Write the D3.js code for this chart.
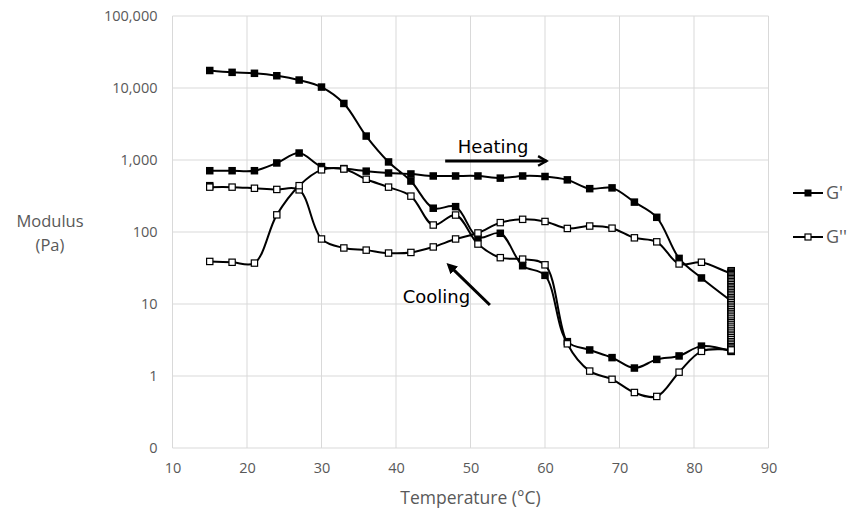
<!DOCTYPE html>
<html lang="en">
<head>
<meta charset="UTF-8">
<title>Modulus vs Temperature</title>
<script src="https://d3js.org/d3.v7.min.js"></script>
<style>
    body { margin: 0; background: #fff; }
    svg { display: block; font-family: "Open Sans", Arial, sans-serif; }
    .tick-label { fill: #595959; font-size: 14.5px; }
    .axis-title { fill: #595959; font-size: 17.5px; }
    .note { fill: #000; font-family: "DejaVu Sans", sans-serif; font-size: 18px; }
</style>
</head>
<body>
<div id="chart"></div>
<script>
    // temperatures (°C) of the ramp points
    const temps = [15, 18, 21, 24, 27, 30, 33, 36, 39, 42, 45, 48, 51, 54, 57, 60, 63, 66, 69, 72, 75, 78, 81, 85];

    // heating ramp 15 -> 85
    const heatGp  = [710, 710, 710, 910, 1250, 810, 760, 700, 660, 640, 600, 600, 600, 560, 600, 590, 530, 400, 410, 260, 160, 43, 23, 11];
    const heatGpp = [420, 420, 405, 390, 385, 80, 60, 56, 51, 52, 62, 80, 97, 135, 150, 140, 112, 121, 113, 83, 73, 36, 38, 27];

    // hold at 85 °C (time sweep, many points stacked)
    const holdT = 85;
    const holdGp  = [11, 10.6, 10.2, 9.8, 9.4, 9, 8.6, 8.2, 7.8, 7.4, 7.1, 6.8, 6.5, 6.2, 5.9, 5.6, 5.3, 5.1, 4.9, 4.7, 4.5, 4.3, 4.1, 3.9, 3.7, 3.55, 3.4, 3.25, 3.1, 2.95, 2.8, 2.7, 2.6, 2.5, 2.4, 2.3, 2.2];
    const holdGpp = [29, 28.5, 27.5, 26.5, 25.5, 24.5, 23.5, 22.5, 21.5, 20.5, 19.5, 18.5, 17.5, 16.7, 15.9, 15.1, 14.3, 13.6, 12.9, 12.2, 11.6, 11, 10.4, 9.8, 9.3, 8.8, 8.3, 7.8, 7.4, 7, 6.6, 6.2, 5.8, 5.5, 5.2, 4.9, 4.6, 4.3, 4.05, 3.8, 3.6, 3.4, 3.2, 3, 2.85, 2.7, 2.55, 2.45, 2.35, 2.3];

    // cooling ramp 85 -> 15 (listed by temperature, low to high)
    const coolGp  = [17500, 16500, 16000, 14800, 12900, 10300, 6100, 2150, 940, 510, 214, 225, 84, 96, 34, 25, 3.0, 2.3, 1.8, 1.29, 1.7, 1.9, 2.6, 2.2];
    const coolGpp = [39, 38, 37, 173, 440, 730, 750, 540, 420, 315, 125, 172, 68, 44, 42, 35, 2.8, 1.17, 0.9, 0.59, 0.52, 1.13, 2.2, 2.3];

    // extra G' point sitting at 15 °C
    const extraT = [15];
    const extraGp = [440];

    const xTicks = [10, 20, 30, 40, 50, 60, 70, 80, 90];
    const yTicks = [0.1, 1, 10, 100, 1000, 10000, 100000];
    const legendLabels = ["G'", "G''"];

    const width = 861, height = 509;
    const margin = { top: 16, right: 92.5, bottom: 61, left: 172.5 };
    const innerW = width - margin.left - margin.right;
    const innerH = height - margin.top - margin.bottom;

    const svg = d3.select('#chart').append('svg')
        .attr('width', width)
        .attr('height', height);

    const g = svg.append('g')
        .attr('transform', `translate(${margin.left}, ${margin.top})`);

    const x = d3.scaleLinear().domain([10, 90]).range([0, innerW]);
    const y = d3.scaleLog().domain([0.1, 100000]).range([innerH, 0]);

    // grid
    g.selectAll('.vgrid').data(xTicks).enter().append('line')
        .attr('x1', d => x(d)).attr('x2', d => x(d))
        .attr('y1', 0).attr('y2', innerH)
        .attr('stroke', '#d9d9d9').attr('stroke-width', 1);
    g.selectAll('.hgrid').data(yTicks).enter().append('line')
        .attr('x1', 0).attr('x2', innerW)
        .attr('y1', d => y(d)).attr('y2', d => y(d))
        .attr('stroke', '#d9d9d9').attr('stroke-width', 1);

    // axes (labels only, Excel style)
    const fmt = d3.format(',.0f');
    const yAxis = g.append('g')
        .call(d3.axisLeft(y).tickValues(yTicks).tickFormat(fmt).tickSize(0).tickPadding(15));
    yAxis.select('.domain').remove();
    yAxis.selectAll('text').attr('class', 'tick-label').attr('fill', null).style('font-size', null);

    const xAxis = g.append('g')
        .attr('transform', `translate(0, ${innerH})`)
        .call(d3.axisBottom(x).tickValues(xTicks).tickFormat(d3.format('d')).tickSize(0).tickPadding(15));
    xAxis.select('.domain').remove();
    xAxis.selectAll('text').attr('class', 'tick-label').attr('fill', null).style('font-size', null);
    svg.selectAll('.tick-label').style('font-family', '"Open Sans", Arial, sans-serif');

    // titles
    svg.append('text').attr('class', 'axis-title')
        .attr('x', margin.left + innerW / 2).attr('y', 504)
        .attr('text-anchor', 'middle').text('Temperature (°C)');
    svg.append('text').attr('class', 'axis-title')
        .attr('x', 50).attr('y', 227).style('font-size', '16.5px')
        .attr('text-anchor', 'middle').text('Modulus');
    svg.append('text').attr('class', 'axis-title')
        .attr('x', 50).attr('y', 251).style('font-size', '16.5px')
        .attr('text-anchor', 'middle').text('(Pa)');

    // build full sequences: heating -> hold -> cooling (reversed)
    function sequence(heat, hold, cool) {
        const pts = [];
        temps.forEach((t, i) => pts.push([t, heat[i]]));
        hold.forEach(v => pts.push([holdT, v]));
        temps.slice().reverse().forEach((t, i) => pts.push([t, cool[cool.length - 1 - i]]));
        return pts;
    }
    const gpPts = sequence(heatGp, holdGp, coolGp);
    const gppPts = sequence(heatGpp, holdGpp, coolGpp);

    const line = d3.line()
        .x(d => x(d[0]))
        .y(d => y(d[1]))
        .curve(d3.curveCatmullRom.alpha(0.5));

    const ms = 7.5;

    // G'
    g.append('path').datum(gpPts)
        .attr('fill', 'none').attr('stroke', '#000').attr('stroke-width', 2)
        .attr('d', line);
    g.selectAll('.gp').data(gpPts.concat(extraT.map((t, i) => [t, extraGp[i]]))).enter().append('rect')
        .attr('x', d => x(d[0]) - ms / 2).attr('y', d => y(d[1]) - ms / 2)
        .attr('width', ms).attr('height', ms)
        .attr('fill', '#000');

    // G''
    g.append('path').datum(gppPts)
        .attr('fill', 'none').attr('stroke', '#000').attr('stroke-width', 2)
        .attr('d', line);
    g.selectAll('.gpp').data(gppPts).enter().append('rect')
        .attr('x', d => x(d[0]) - ms / 2 + 0.6).attr('y', d => y(d[1]) - ms / 2 + 0.6)
        .attr('width', ms - 1.2).attr('height', ms - 1.2)
        .attr('fill', '#fff').attr('stroke', '#000').attr('stroke-width', 1.2);

    // annotations
    const defs = svg.append('defs');
    defs.append('marker').attr('id', 'chev')
        .attr('viewBox', '0 0 10 10').attr('refX', 8).attr('refY', 5)
        .attr('markerWidth', 4).attr('markerHeight', 4).attr('orient', 'auto')
        .append('path').attr('d', 'M1,1 L8,5 L1,9')
        .attr('fill', 'none').attr('stroke', '#000').attr('stroke-width', 2);
    defs.append('marker').attr('id', 'tri')
        .attr('viewBox', '0 0 10 10').attr('refX', 5).attr('refY', 5)
        .attr('markerWidth', 3.6).attr('markerHeight', 3.6).attr('orient', 'auto')
        .append('path').attr('d', 'M0,0 L10,5 L0,10 Z').attr('fill', '#000');

    g.append('line')
        .attr('x1', x(46.6)).attr('y1', y(970))
        .attr('x2', x(60.2)).attr('y2', y(970))
        .attr('stroke', '#000').attr('stroke-width', 3)
        .attr('marker-end', 'url(#chev)');
    g.append('text').attr('class', 'note')
        .attr('x', x(48.3)).attr('y', y(1250)).text('Heating');

    g.append('line')
        .attr('x1', x(52.6)).attr('y1', y(9.7))
        .attr('x2', x(47.3)).attr('y2', y(33))
        .attr('stroke', '#000').attr('stroke-width', 3)
        .attr('marker-end', 'url(#tri)');
    g.append('text').attr('class', 'note')
        .attr('x', x(40.9)).attr('y', y(10.3)).text('Cooling');

    // legend
    const leg = svg.append('g').attr('transform', 'translate(793, 193)');
    legendLabels.forEach((lab, i) => {
        const row = leg.append('g').attr('transform', `translate(0, ${i * 44})`);
        row.append('line').attr('x1', 0).attr('x2', 30).attr('y1', 0).attr('y2', 0)
            .attr('stroke', '#000').attr('stroke-width', 2);
        if (i === 0) {
            row.append('rect').attr('x', 15 - 3.5).attr('y', -3.5).attr('width', 7).attr('height', 7).attr('fill', '#000');
        } else {
            row.append('rect').attr('x', 15 - 3).attr('y', -3).attr('width', 6).attr('height', 6)
                .attr('fill', '#fff').attr('stroke', '#000').attr('stroke-width', 1.2);
        }
        row.append('text').attr('class', 'axis-title')
            .attr('x', 33).attr('y', 6).style('font-size', '18px').text(lab);
    });
</script>
</body>
</html>
